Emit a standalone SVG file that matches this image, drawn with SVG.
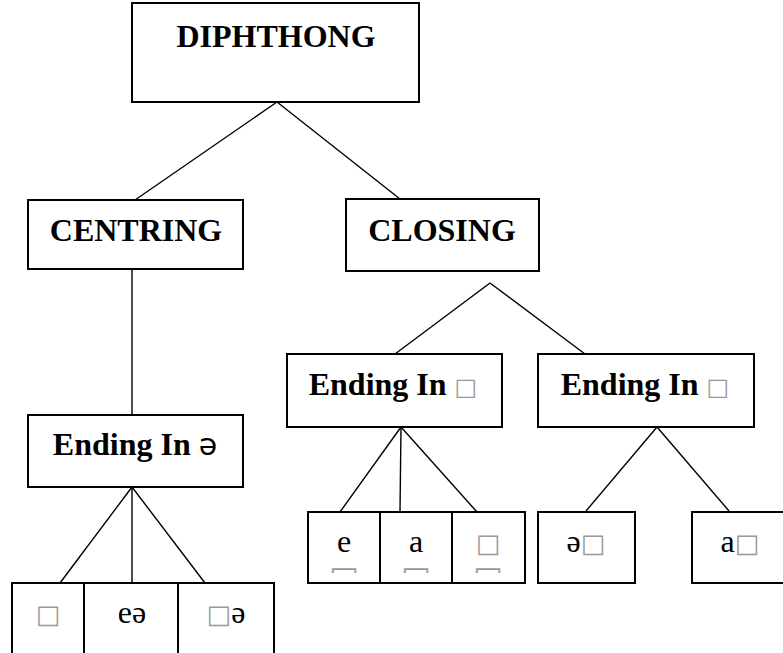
<svg xmlns="http://www.w3.org/2000/svg" width="783" height="653" viewBox="0 0 783 653">
<style>
.box{fill:#fff;stroke:#000;stroke-width:2}
.ln{stroke:#000;stroke-width:1.4;fill:none}
.b{font-family:"Liberation Serif","Times New Roman",serif;font-weight:bold;font-size:32px;text-anchor:middle;fill:#000}
.r{font-family:"Liberation Serif","Times New Roman",serif;font-size:32px;text-anchor:middle;fill:#000}
.tofu{font-family:"DejaVu Sans",sans-serif;font-weight:normal;fill:#999}
.schwa{font-family:"DejaVu Sans",sans-serif;font-weight:normal}
</style>
<defs>
<clipPath id="subclip"><rect x="300" y="560" width="240" height="13"/></clipPath>
</defs>
<rect x="0" y="0" width="783" height="653" fill="#fff"/>
<g id="connectors">
<line class="ln" x1="277" y1="102" x2="135" y2="200"/>
<line class="ln" x1="277" y1="102" x2="400" y2="199"/>
<line class="ln" x1="132" y1="269" x2="132" y2="415"/>
<line class="ln" x1="490" y1="283" x2="395" y2="354"/>
<line class="ln" x1="490" y1="283" x2="585" y2="354"/>
<line class="ln" x1="132" y1="487" x2="60" y2="583"/>
<line class="ln" x1="132" y1="487" x2="132" y2="583"/>
<line class="ln" x1="132" y1="487" x2="205" y2="583"/>
<line class="ln" x1="401" y1="427" x2="340" y2="512"/>
<line class="ln" x1="401" y1="427" x2="400" y2="512"/>
<line class="ln" x1="401" y1="427" x2="477" y2="512"/>
<line class="ln" x1="657" y1="427" x2="586" y2="511"/>
<line class="ln" x1="657" y1="427" x2="729" y2="511"/>
</g>
<g id="diphthong">
<rect class="box" x="132" y="3" width="287" height="99"/>
<text class="b" x="276" y="47">DIPHTHONG</text>
</g>
<g id="centring">
<rect class="box" x="28" y="200" width="215" height="69"/>
<text class="b" x="136" y="241">CENTRING</text>
</g>
<g id="closing">
<rect class="box" x="346" y="199" width="193" height="72"/>
<text class="b" x="442" y="241">CLOSING</text>
</g>
<g id="ending-schwa">
<rect class="box" x="28" y="415" width="215" height="72"/>
<text class="b" x="135" y="455">Ending In <tspan class="schwa" font-size="30">ə</tspan></text>
</g>
<g id="ending-i">
<rect class="box" x="287" y="354" width="215" height="73"/>
<text class="b" x="393" y="395">Ending In <tspan class="tofu" font-size="24">□</tspan></text>
</g>
<g id="ending-u">
<rect class="box" x="538" y="354" width="216" height="73"/>
<text class="b" x="645" y="395">Ending In <tspan class="tofu" font-size="24">□</tspan></text>
</g>
<g id="c1">
<rect class="box" x="12" y="583" width="72" height="80"/>
<text class="r" x="48" y="623"><tspan class="tofu" font-size="26">□</tspan></text>
</g>
<g id="c2">
<rect class="box" x="84" y="583" width="94" height="80"/>
<text class="r" x="132" y="623">eə</text>
</g>
<g id="c3">
<rect class="box" x="178" y="583" width="96" height="80"/>
<text class="r" x="226" y="623"><tspan class="tofu" font-size="26">□</tspan>ə</text>
</g>
<g id="i1">
<rect class="box" x="308" y="512" width="72" height="71"/>
<text class="r" x="344" y="552">e</text>
<text class="r tofu" x="344" y="589" font-size="26" clip-path="url(#subclip)">□</text>
</g>
<g id="i2">
<rect class="box" x="380" y="512" width="72" height="71"/>
<text class="r" x="416" y="552">a</text>
<text class="r tofu" x="416" y="589" font-size="26" clip-path="url(#subclip)">□</text>
</g>
<g id="i3">
<rect class="box" x="452" y="512" width="73" height="71"/>
<text class="r" x="488" y="552"><tspan class="tofu" font-size="26">□</tspan></text>
<text class="r tofu" x="488" y="589" font-size="26" clip-path="url(#subclip)">□</text>
</g>
<g id="u1">
<rect class="box" x="538" y="512" width="97" height="71"/>
<text class="r" x="586" y="552">ə<tspan class="tofu" font-size="26">□</tspan></text>
</g>
<g id="u2">
<rect class="box" x="692" y="512" width="100" height="71"/>
<text class="r" x="740" y="552">a<tspan class="tofu" font-size="26">□</tspan></text>
</g>
</svg>
